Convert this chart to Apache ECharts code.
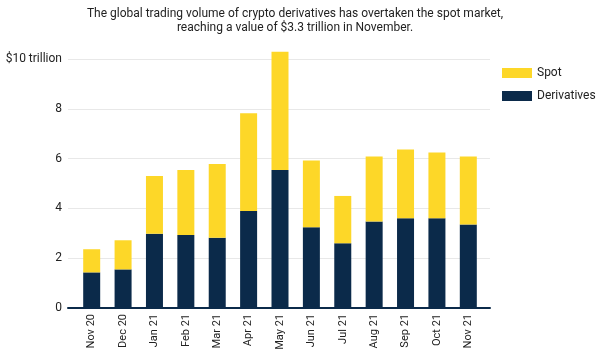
<!DOCTYPE html>
<html>
<head>
<meta charset="utf-8">
<script src="https://cdn.jsdelivr.net/npm/echarts@6/dist/echarts.min.js"></script>
<style>
  html, body { margin: 0; padding: 0; background: #fff; }
  #chart { width: 600px; height: 354px; }
</style>
</head>
<body>
<div id="chart"></div>
<script>
// data ($ trillion)
var months = ['Nov 20', 'Dec 20', 'Jan 21', 'Feb 21', 'Mar 21', 'Apr 21', 'May 21',
  'Jun 21', 'Jul 21', 'Aug 21', 'Sep 21', 'Oct 21', 'Nov 21']
var derivatives = [1.43, 1.55, 2.98, 2.93, 2.82, 3.9, 5.54, 3.24, 2.6, 3.47, 3.6, 3.6, 3.35]
var spot = [0.93, 1.17, 2.32, 2.61, 2.96, 3.92, 4.75, 2.68, 1.9, 2.61, 2.77, 2.64, 2.73]
var yTicks = { min: 0, max: 10, interval: 2 }

var navy = '#0b2a4a'
var yellow = '#fdd728'
var font = 'Roboto'

var chart = echarts.init(document.getElementById('chart'))
chart.setOption({
  backgroundColor: '#fff',
  animation: false,
  textStyle: { fontFamily: font },
  title: {
    text: 'The global trading volume of crypto derivatives has overtaken the spot market,\nreaching a value of $3.3 trillion in November.',
    left: 290,
    top: 2,
    textAlign: 'center',
    textStyle: { fontSize: 12, fontWeight: 'normal', color: '#222', lineHeight: 14, fontFamily: font }
  },
  legend: {
    data: ['Spot', 'Derivatives'],
    orient: 'vertical',
    left: 497,
    top: 62,
    itemWidth: 30,
    itemHeight: 10,
    itemGap: 11,
    icon: 'rect',
    textStyle: { fontSize: 12, color: '#222', fontFamily: font }
  },
  grid: [
    // gridlines, y labels, base line
    { left: 68, right: 110, top: 59, bottom: 46 },
    // bars (inset a little from the base line)
    { left: 76, right: 116, top: 59, bottom: 46 }
  ],
  xAxis: [
    {
      gridIndex: 0,
      type: 'value',
      min: 0,
      max: 1,
      axisLine: { show: true, lineStyle: { color: navy, width: 2 } },
      axisTick: { show: false },
      axisLabel: { show: false },
      splitLine: { show: false }
    },
    {
      gridIndex: 1,
      type: 'category',
      data: months,
      axisLine: { show: false },
      axisTick: { show: false },
      axisLabel: { rotate: 90, fontSize: 11, color: '#222', margin: 6, fontFamily: font }
    }
  ],
  yAxis: [
    {
      gridIndex: 0,
      type: 'value',
      min: yTicks.min,
      max: yTicks.max,
      interval: yTicks.interval,
      axisLine: { show: false },
      axisTick: { show: false },
      axisLabel: {
        fontSize: 12,
        color: '#222',
        margin: 6,
        fontFamily: font,
        formatter: function (v) { return v === 10 ? '$10 trillion' : v }
      },
      splitLine: { lineStyle: { color: '#e8e8e8', width: 1 } }
    },
    { gridIndex: 1, type: 'value', min: yTicks.min, max: yTicks.max, show: false }
  ],
  series: [
    {
      name: 'Derivatives',
      type: 'bar',
      xAxisIndex: 1,
      yAxisIndex: 1,
      stack: 'vol',
      barWidth: 17,
      clip: false,
      itemStyle: { color: navy },
      data: derivatives
    },
    {
      name: 'Spot',
      type: 'bar',
      xAxisIndex: 1,
      yAxisIndex: 1,
      stack: 'vol',
      barWidth: 17,
      clip: false,
      itemStyle: { color: yellow },
      data: spot
    }
  ]
})
</script>
</body>
</html>
